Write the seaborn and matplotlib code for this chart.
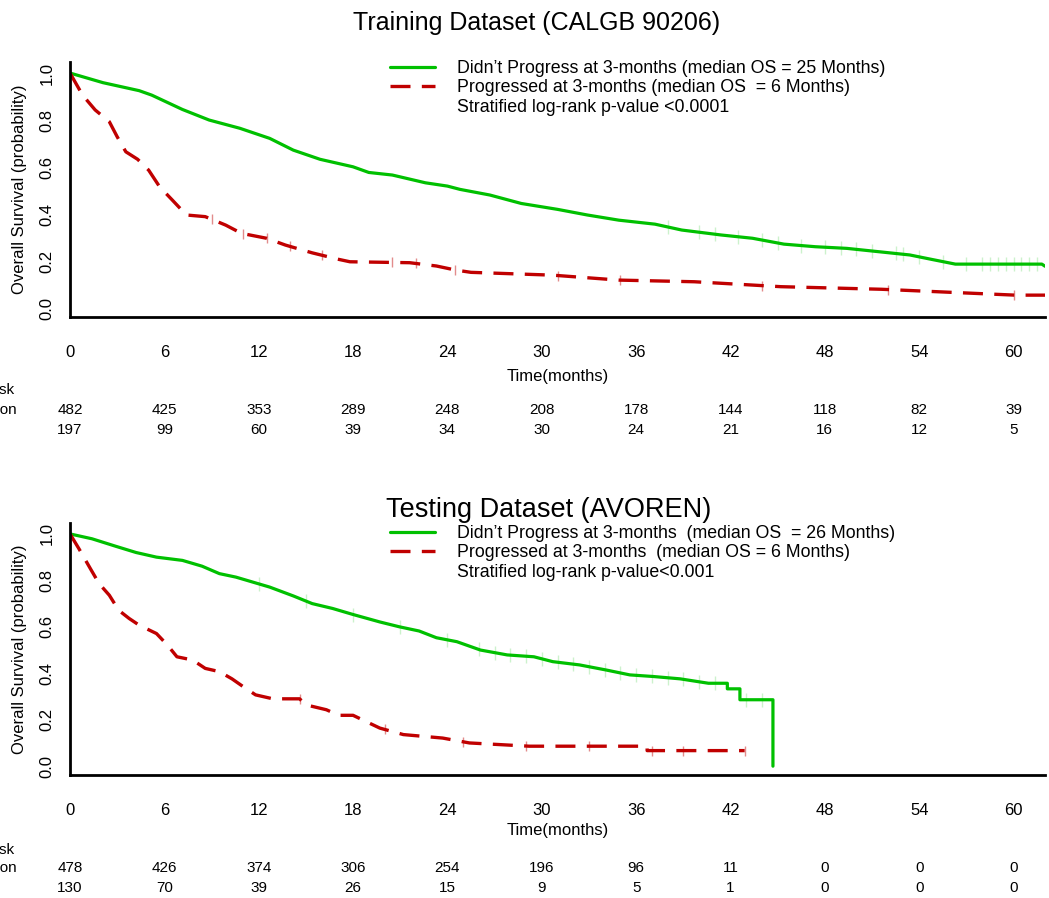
import numpy as np
import pandas as pd
import seaborn as sns
import matplotlib.pyplot as plt
import matplotlib.transforms as mtransforms
from matplotlib.lines import Line2D

# Kaplan-Meier curves (months, survival probability)
train_noprog_t = [0, 2.1, 4.4, 5.2, 7.15, 8.85, 10.8, 12.7, 14.2, 15.9, 18.0, 19.0, 20.5, 22.6, 24.0,
                  24.8, 26.7, 28.7, 31.0, 32.9, 34.9, 37.2, 38.9, 41.4, 43.4, 45.4, 47.4, 49.4, 51.4,
                  53.4, 54.8, 56.3, 61.8, 62.0]
train_noprog_s = [1.0, 0.959, 0.925, 0.906, 0.845, 0.80, 0.765, 0.722, 0.672, 0.633, 0.601, 0.577,
                  0.566, 0.533, 0.519, 0.505, 0.481, 0.445, 0.42, 0.396, 0.374, 0.357, 0.332, 0.311,
                  0.297, 0.272, 0.261, 0.254, 0.24, 0.226, 0.207, 0.187, 0.187, 0.178]
train_prog_t = [0, 0.8, 1.6, 2.5, 3.0, 3.55, 4.3, 5.0, 5.7, 6.5, 7.4, 8.6, 9.9, 10.9, 12.5, 13.7,
                15.4, 17.1, 17.8, 21.6, 23.3, 24.5, 25.5, 30.7, 34.9, 39.7, 45.2, 51.6, 60.1, 62.0]
train_prog_s = [1.0, 0.906, 0.843, 0.793, 0.729, 0.665, 0.633, 0.587, 0.516, 0.46, 0.396, 0.389,
                0.353, 0.318, 0.297, 0.268, 0.235, 0.207, 0.197, 0.193, 0.179, 0.162, 0.152, 0.14,
                0.119, 0.112, 0.091, 0.080, 0.055, 0.055]

test_noprog_t = [0, 1.4, 2.9, 4.2, 5.5, 7.15, 8.4, 9.5, 10.55, 11.6, 12.7, 14.2, 15.4, 16.7, 18.0,
                 19.7, 20.95, 22.2, 23.3, 24.6, 26.1, 27.8, 29.5, 30.7, 32.4, 34.1, 35.6, 37.1,
                 38.8, 40.6, 41.8, 41.8, 42.6, 42.6, 44.7, 44.7]
test_noprog_s = [1.0, 0.979, 0.947, 0.92, 0.90, 0.886, 0.861, 0.829, 0.814, 0.793, 0.771, 0.733,
                 0.70, 0.679, 0.653, 0.621, 0.60, 0.582, 0.553, 0.536, 0.50, 0.479, 0.471, 0.45,
                 0.436, 0.414, 0.393, 0.386, 0.376, 0.357, 0.357, 0.333, 0.333, 0.286, 0.286, 0.0]
test_prog_t = [0, 0.57, 1.3, 1.85, 2.5, 3.1, 3.76, 4.4, 5.5, 6.2, 6.8, 7.8, 8.6, 9.5, 10.3, 11.0,
               11.8, 12.9, 14.6, 15.0, 16.3, 17.1, 18.0, 18.8, 19.7, 21.2, 23.7, 25.4, 29.2, 36.7,
               36.7, 42.9]
test_prog_s = [1.0, 0.936, 0.85, 0.786, 0.736, 0.671, 0.636, 0.607, 0.571, 0.521, 0.471, 0.457,
               0.421, 0.407, 0.376, 0.343, 0.307, 0.29, 0.29, 0.264, 0.243, 0.219, 0.219, 0.193,
               0.164, 0.136, 0.121, 0.10, 0.086, 0.086, 0.067, 0.067]

# censoring times (approximate)
train_noprog_cens = [38, 40, 41, 42.5, 44, 45, 46.5, 48, 49, 50, 51, 52.5, 53, 54, 55.5, 57, 58,
                     58.5, 59, 59.5, 60, 60.5, 61, 61.5]
train_prog_cens = [9, 11, 12.5, 14, 16, 20.5, 22, 24.5, 31, 35, 44, 52, 60]
test_noprog_cens = [12, 15, 18, 21, 24, 26, 27, 28, 29, 30, 31, 32, 33, 34, 35, 36, 37, 38, 39,
                    40, 41, 43, 44]
test_prog_cens = [14.6, 20, 25, 29, 33, 37, 39, 42.9]

# numbers at risk
risk_times = [0, 6, 12, 18, 24, 30, 36, 42, 48, 54, 60]
train_risk_noprog = [482, 425, 353, 289, 248, 208, 178, 144, 118, 82, 39]
train_risk_prog = [197, 99, 60, 39, 34, 30, 24, 21, 16, 12, 5]
test_risk_noprog = [478, 426, 374, 306, 254, 196, 96, 11, 0, 0, 0]
test_risk_prog = [130, 70, 39, 26, 15, 9, 5, 1, 0, 0, 0]

GREEN = '#00c000'
RED = '#c00000'

sns.set_style('white')
plt.rcParams['font.family'] = ['Liberation Sans', 'DejaVu Sans']
plt.rcParams['text.color'] = 'black'
plt.rcParams['axes.labelcolor'] = 'black'

W, H = 1049, 898
fig = plt.figure(figsize=(W / 100, H / 100), dpi=100)


def fy(py):
    return 1 - py / H


def draw_panel(ax, title, title_pos, title_size, nt, ns, pt, ps, ncens, pcens, rn, rp,
               leg_labels, leg_top, risk_y, xlabpad):
    df_n = pd.DataFrame({'t': nt, 's': ns})
    df_p = pd.DataFrame({'t': pt, 's': ps})
    sns.lineplot(data=df_n, x='t', y='s', ax=ax, color=GREEN, lw=2.3,
                 estimator=None, sort=False)
    sns.lineplot(data=df_p, x='t', y='s', ax=ax, color=RED, lw=2.4,
                 estimator=None, sort=False, linestyle=(0, (6, 3.4)))
    # censor marks
    sns.scatterplot(x=ncens, y=np.interp(ncens, nt, ns), ax=ax, marker='|', s=90,
                    color=GREEN, alpha=0.2, linewidth=1)
    sns.scatterplot(x=pcens, y=np.interp(pcens, pt, ps), ax=ax, marker='|', s=50,
                    color=RED, alpha=0.45, linewidth=1)

    ax.set_xlim(0, 62)
    ax.set_ylim(-0.038, 1.047)
    ax.set_xticks(risk_times)
    ax.set_yticks([0, 0.2, 0.4, 0.6, 0.8, 1.0])
    ax.set_yticklabels(['0.0', '0.2', '0.4', '0.6', '0.8', '1.0'], rotation=90, va='center')
    ax.tick_params(axis='both', direction='out', length=4, width=1, color='#dddddd',
                   labelsize=12, labelcolor='black')
    ax.tick_params(axis='x', pad=16)
    ax.tick_params(axis='y', pad=7)
    ax.set_xlabel('Time(months)', fontsize=12, labelpad=xlabpad)
    ax.set_ylabel('Overall Survival (probability)', fontsize=12, labelpad=9)
    for side in ['top', 'right']:
        ax.spines[side].set_visible(False)
    for side in ['left', 'bottom']:
        ax.spines[side].set_color('black')
        ax.spines[side].set_linewidth(2)

    handles = [Line2D([], [], color=GREEN, lw=2.3),
               Line2D([], [], color=RED, lw=2.4, linestyle=(0, (6, 3.4))),
               Line2D([], [], color='none')]
    ax.legend(handles=handles, labels=leg_labels, loc='upper left',
              bbox_to_anchor=(390 / W, fy(leg_top)), bbox_transform=fig.transFigure,
              frameon=False, borderpad=0, borderaxespad=0, labelspacing=0.14,
              handlelength=2.55, handletextpad=1.2, fontsize=12.8)

    fig.text(title_pos[0] / W, fy(title_pos[1]), title, ha='center', va='center',
             fontsize=title_size)

    # number at risk table
    trans = mtransforms.blended_transform_factory(ax.transData, fig.transFigure)
    for t, a, b in zip(risk_times, rn, rp):
        ax.text(t, fy(risk_y[1]), str(a), transform=trans, ha='center', va='center', fontsize=11)
        ax.text(t, fy(risk_y[2]), str(b), transform=trans, ha='center', va='center', fontsize=11)
    fig.text(-85 / W, fy(risk_y[0]), 'Number at risk', ha='left', va='center', fontsize=11)
    fig.text(-88 / W, fy(risk_y[1]), 'No Progression', ha='left', va='center', fontsize=11)
    fig.text(-88 / W, fy(risk_y[2]), 'Progression', ha='left', va='center', fontsize=11)


ax1 = fig.add_axes([70 / W, fy(317), 975 / W, 255 / H])
ax2 = fig.add_axes([70 / W, fy(775), 975 / W, 252 / H])

draw_panel(ax1, 'Training Dataset (CALGB 90206)', (537, 23), 18,
           train_noprog_t, train_noprog_s, train_prog_t, train_prog_s,
           train_noprog_cens, train_prog_cens, train_risk_noprog, train_risk_prog,
           ["Didn\u2019t Progress at 3-months (median OS = 25 Months)",
            'Progressed at 3-months (median OS  = 6 Months)',
            'Stratified log-rank p-value <0.0001'],
           60, (390, 410, 430), 7)

draw_panel(ax2, 'Testing Dataset (AVOREN)', (549, 510), 19.5,
           test_noprog_t, test_noprog_s, test_prog_t, test_prog_s,
           test_noprog_cens, test_prog_cens, test_risk_noprog, test_risk_prog,
           ["Didn\u2019t Progress at 3-months  (median OS  = 26 Months)",
            'Progressed at 3-months  (median OS = 6 Months)',
            'Stratified log-rank p-value<0.001'],
           525, (850, 868, 888), 4)

fig.savefig('out.png', dpi=100)
